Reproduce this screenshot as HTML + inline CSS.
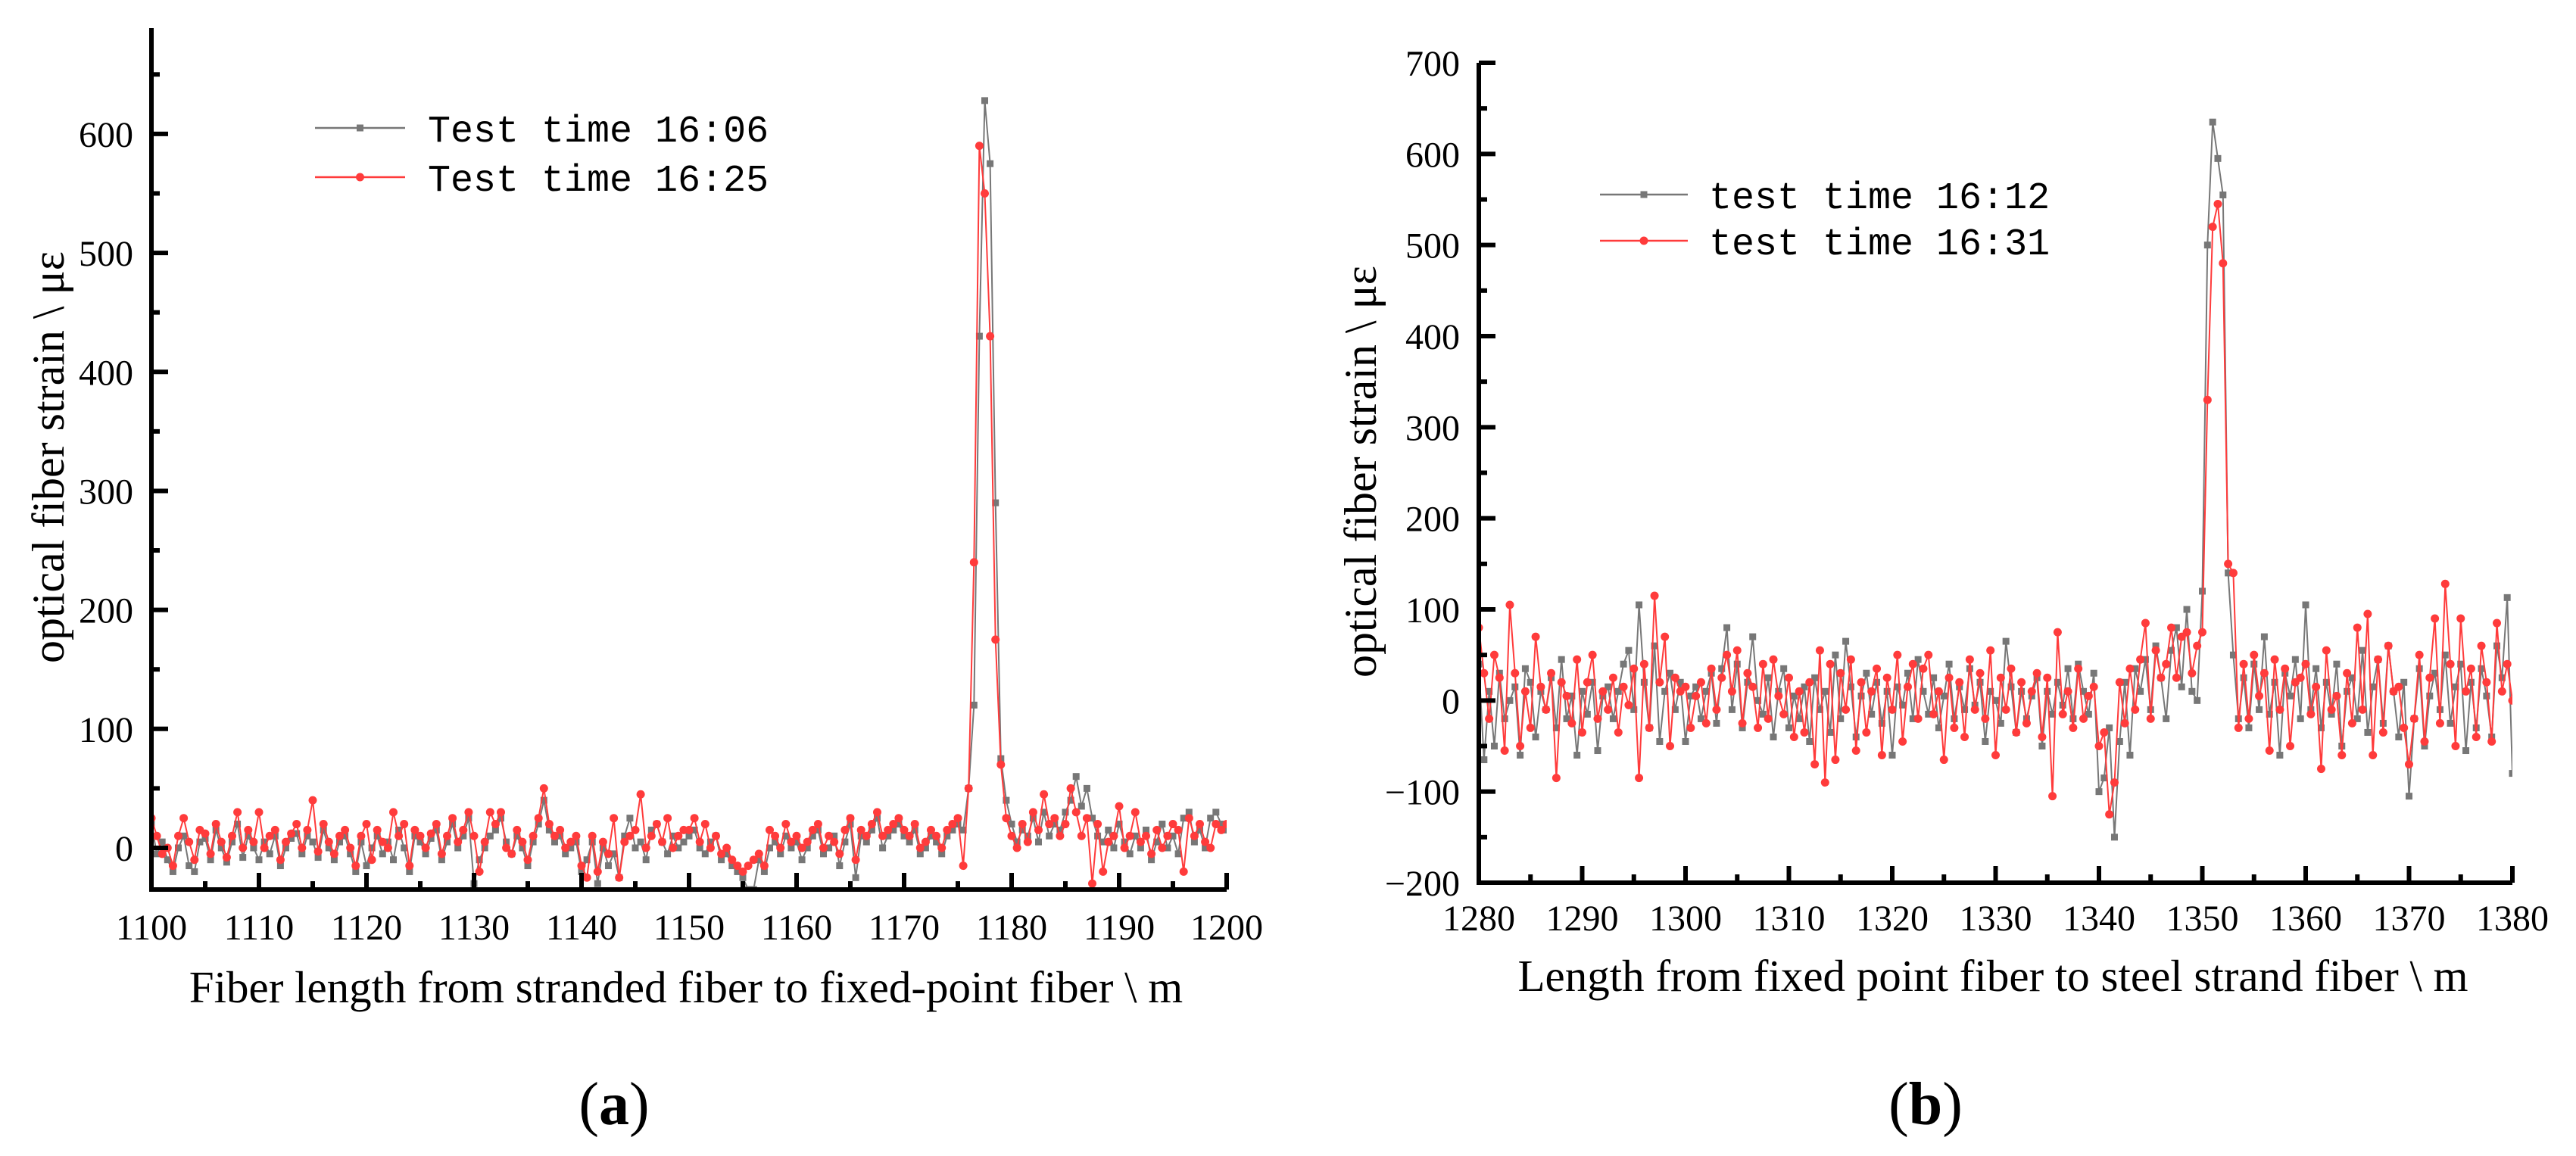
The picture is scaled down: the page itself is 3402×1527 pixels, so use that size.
<!DOCTYPE html>
<html><head><meta charset="utf-8">
<style>
html,body{margin:0;padding:0;background:#fff;}
svg{display:block;}
text{font-family:"Liberation Serif",serif;fill:#000;}
.leg{font-family:"Liberation Mono",monospace;}
</style></head>
<body>
<svg id="svg" width="3402" height="1527" viewBox="0 0 3402 1527" xmlns="http://www.w3.org/2000/svg">
<defs>
<clipPath id="clipA"><rect x="200" y="37" width="1420" height="1138"/></clipPath>
<clipPath id="clipB"><rect x="1953" y="83" width="1365" height="1083"/></clipPath>
</defs>
<g id="chartA"></g>
<g id="chartB"></g>
<text x="811" y="1485" font-size="80" text-anchor="middle">(<tspan font-weight="bold">a</tspan>)</text>
<text x="2543" y="1485" font-size="80" text-anchor="middle">(<tspan font-weight="bold">b</tspan>)</text>
</svg>
<script>
// Chart A data (x from 1100 step 0.5)
const aStart = 1100, aStep = 0.5;
const aGray = [20,-5,5,-10,-20,0,10,-15,-20,5,8,-10,15,0,-12,5,20,-8,10,0,
-10,5,-5,10,-15,0,8,12,-5,10,5,-8,15,0,-10,5,10,-5,-20,5,
-15,0,10,-5,5,-10,15,0,-20,10,5,-5,8,15,-10,5,20,0,10,25,
-30,-10,0,10,15,25,5,-5,10,0,-15,5,20,40,15,5,10,-5,0,5,
-20,-10,5,-30,0,-15,-5,-25,10,25,0,5,-10,15,20,5,-5,10,0,5,
10,15,0,-5,5,10,-10,-5,-15,-20,-25,-35,-35,-10,-20,0,5,-5,10,0,
5,-10,0,10,15,-5,0,10,-15,5,20,-25,10,5,15,25,0,10,15,20,
10,5,15,-5,0,10,5,-5,10,15,20,15,50,120,430,628,575,290,75,40,
20,5,15,10,25,5,30,10,20,15,30,40,60,35,50,25,10,5,15,0,
20,5,-5,10,0,15,-10,5,20,0,10,-5,25,30,5,15,0,25,30,20,15];
const aRed = [25,10,-5,0,-15,10,25,5,-10,15,12,-5,20,5,-8,10,30,0,15,5,
30,0,10,15,-10,5,12,20,0,15,40,-3,20,5,-5,10,15,0,-15,10,
20,-10,15,5,0,30,10,20,-15,15,10,0,12,20,-5,10,25,5,15,30,
10,-20,5,30,20,30,0,-5,15,5,-10,10,25,50,20,10,15,0,5,10,
-15,-25,10,-20,5,-5,25,-25,5,10,15,45,0,10,20,5,25,0,10,15,
15,25,5,20,0,10,-5,0,-10,-15,-20,-15,-10,-5,-15,15,10,0,20,5,
10,0,5,15,20,0,10,5,-5,15,25,-10,15,10,20,30,10,15,20,25,
15,10,20,0,5,15,10,0,15,20,25,-15,50,240,590,550,430,175,70,25,
10,0,20,5,30,15,45,20,25,10,20,50,30,10,25,-30,20,-20,5,10,
35,0,10,30,5,10,-5,15,0,10,20,15,-20,25,10,20,5,0,20,15,20];
const aXTicks = [1100,1110,1120,1130,1140,1150,1160,1170,1180,1190,1200];
const aYTicks = [0,100,200,300,400,500,600];
// Chart B data (x from 1280 step 0.5)
const bStart = 1280, bStep = 0.5;
const bGray = [40,-65,10,-50,30,-20,0,15,-60,35,20,-40,10,-10,25,-30,45,-20,5,-60,
10,-15,20,-55,5,15,-20,10,40,55,-10,105,20,-30,60,-45,10,30,-10,20,
-45,5,15,-20,10,30,-25,35,80,-10,40,-30,20,70,0,-15,25,-40,10,35,
-30,5,-20,15,-45,25,-10,10,-35,50,-20,65,15,-40,5,30,-15,20,-25,10,
-60,15,-5,30,-20,45,10,-15,25,-30,5,40,-20,15,-10,35,-5,20,-45,10,
0,-25,65,15,-35,10,-20,5,25,-50,10,-15,20,-5,35,-20,40,10,-15,30,
-100,-85,-30,-150,-45,20,-60,35,10,45,-10,60,25,-20,55,80,15,100,10,0,
120,500,635,595,555,140,50,-20,25,-30,40,-10,70,-15,20,-60,30,5,45,-20,
105,-10,35,-30,20,-15,40,-50,10,25,-20,55,-35,15,45,-25,60,10,-40,20,
-105,-20,35,-50,5,30,-10,50,-25,15,40,-55,20,-30,35,5,-40,60,25,113,-80];
const bRed = [80,30,-20,50,25,-55,105,30,-50,10,-30,70,15,-10,30,-85,20,5,-25,45,
-35,20,50,-20,10,-10,25,-35,15,-5,35,-85,40,-30,115,20,70,-50,25,10,
15,-30,5,20,-25,35,-10,25,50,10,55,-25,30,15,-30,40,-20,45,5,-15,
25,-40,10,-35,20,-70,55,-90,40,-65,30,-10,45,-55,20,-35,10,35,-60,25,
-10,50,-45,15,40,-20,35,50,-15,10,-65,25,-30,20,-40,45,-10,30,-20,55,
-60,25,-10,35,-35,20,-25,10,30,-40,25,-105,75,-15,10,-30,35,-20,5,15,
-50,-35,-125,-90,20,-25,35,-10,45,85,-20,55,25,40,80,25,70,75,30,60,
75,330,520,545,480,150,140,-30,40,-20,50,5,30,-55,45,-10,35,-50,20,25,
40,-15,15,-75,55,-10,5,-60,30,-25,80,-10,95,-60,45,-35,60,10,15,-30,
-70,-20,50,-45,25,90,-25,128,40,-50,90,10,35,-40,60,20,-45,85,10,40,0];
const bXTicks = [1280,1290,1300,1310,1320,1330,1340,1350,1360,1370,1380];
const bYTicks = [-200,-100,0,100,200,300,400,500,600,700];

const NS = "http://www.w3.org/2000/svg";
function mk(tag, attrs, parent){
  const e = document.createElementNS(NS, tag);
  for (const k in attrs) e.setAttribute(k, attrs[k]);
  parent.appendChild(e);
  return e;
}

function drawChart(g, cfg){
  const sx = v => cfg.x0 + (v - cfg.xmin) / (cfg.xmax - cfg.xmin) * (cfg.x1 - cfg.x0);
  const sy = v => cfg.yb - (v - cfg.ymin) / (cfg.ymax - cfg.ymin) * (cfg.yb - cfg.yt);
  const data = mk('g', {'clip-path': 'url(#' + cfg.clip + ')'}, g);
  
  
  cfg.series.forEach(s => {
    const pts = s.vals.map((v, i) => sx(cfg.start + i * cfg.step).toFixed(1) + ',' + sy(v).toFixed(1)).join(' ');
    const sg = mk('g', {}, data);
    
    
    const pl = mk('polyline', {points: pts, fill: 'none', stroke: s.color, 'stroke-width': 2}, sg);
    
    
    s.vals.forEach((v, i) => {
      const cx = sx(cfg.start + i * cfg.step), cy = sy(v);
      let m;
      if (s.marker === 'sq') m = mk('rect', {x: cx - 4.5, y: cy - 4.5, width: 9, height: 9, fill: s.color}, sg);
      else m = mk('circle', {cx: cx, cy: cy, r: 5.5, fill: s.color}, sg);
      
      
    });
  });
  const ax = mk('g', {stroke: '#000', 'stroke-width': 6, fill: 'none'}, g);
  
  
  mk('path', {d: `M${cfg.x0},${cfg.yt} L${cfg.x0},${cfg.yb} L${cfg.x1},${cfg.yb}`}, ax);
  const xl = mk('g', {'font-size': 48, 'text-anchor': 'middle'}, g);
  
  
  cfg.xticks.forEach((t, i) => {
    const x = sx(t);
    mk('line', {x1: x, y1: cfg.yb, x2: x, y2: cfg.yb - 22}, ax);
    if (i < cfg.xticks.length - 1) { const xm = sx(t + 5); mk('line', {x1: xm, y1: cfg.yb, x2: xm, y2: cfg.yb - 11}, ax); }
    const tx = mk('text', {x: x, y: cfg.xlabY}, xl);
    tx.textContent = t;
    
    
  });
  const yl = mk('g', {'font-size': 48, 'text-anchor': 'end'}, g);
  
  
  cfg.yticks.forEach((t, i) => {
    const y = sy(t);
    mk('line', {x1: cfg.x0, y1: y, x2: cfg.x0 + 22, y2: y}, ax);
    const ym = sy(t + 50);
    if (t + 50 <= cfg.ymax) mk('line', {x1: cfg.x0, y1: ym, x2: cfg.x0 + 11, y2: ym}, ax);
    if (i === 0 && t - 50 >= cfg.ymin) { const y2 = sy(t - 50); mk('line', {x1: cfg.x0, y1: y2, x2: cfg.x0 + 11, y2: y2}, ax); }
    const ty = mk('text', {x: cfg.ylabX, y: y + 17}, yl);
    ty.textContent = (t < 0 ? '\u2212' + (-t) : t);
    
    
  });
  const xt = mk('text', {x: cfg.xtX, y: cfg.xtY, 'font-size': 59, 'text-anchor': 'middle'}, g);
  xt.textContent = cfg.xtitle;
  
  
  const yt = mk('text', {x: 0, y: 0, 'font-size': 60, 'text-anchor': 'middle', transform: `translate(${cfg.ytX},${cfg.ytY}) rotate(-90)`}, g);
  yt.textContent = 'optical fiber strain \\ \u03bc\u03b5';
  
  
  const lg = mk('g', {}, g);
  
  
  cfg.series.forEach((s, i) => {
    const y = cfg.legY[i];
    const e = mk('g', {}, lg);
    
    
    mk('line', {x1: cfg.legX0, y1: y, x2: cfg.legX1, y2: y, stroke: s.color, 'stroke-width': 2.5}, e);
    const mx = (cfg.legX0 + cfg.legX1) / 2;
    if (s.marker === 'sq') mk('rect', {x: mx - 4.5, y: y - 4.5, width: 9, height: 9, fill: s.color}, e);
    else mk('circle', {cx: mx, cy: y, r: 5.5, fill: s.color}, e);
    const t = mk('text', {x: cfg.legTX, y: y + 18, 'font-size': 50, class: 'leg'}, e);
    t.textContent = s.label;
  });
}

drawChart(document.getElementById('chartA'), {
  x0: 200, x1: 1620, xmin: 1100, xmax: 1200, yt: 37, yb: 1175, ymin: -35, ymax: 689,
  start: aStart, step: aStep, clip: 'clipA', xticks: aXTicks, yticks: aYTicks,
  xlabY: 1241, ylabX: 176, xtitle: 'Fiber length from stranded fiber to fixed-point fiber \\ m',
  xtX: 906, xtY: 1324, ytX: 84, ytY: 604,
  legX0: 416, legX1: 535, legTX: 565, legY: [169, 234],
  series: [
    {name: 'series-1606', label: 'Test time 16:06', vals: aGray, color: '#777777', marker: 'sq'},
    {name: 'series-1625', label: 'Test time 16:25', vals: aRed, color: '#ff3b3b', marker: 'ci'}
  ]
});
drawChart(document.getElementById('chartB'), {
  x0: 1953, x1: 3318, xmin: 1280, xmax: 1380, yt: 83, yb: 1166, ymin: -200, ymax: 700,
  start: bStart, step: bStep, clip: 'clipB', xticks: bXTicks, yticks: bYTicks,
  xlabY: 1229, ylabX: 1928, xtitle: 'Length from fixed point  fiber to steel strand fiber \\ m',
  xtX: 2632, xtY: 1309, ytX: 1817, ytY: 623,
  legX0: 2113, legX1: 2229, legTX: 2257, legY: [257, 318],
  series: [
    {name: 'series-1612', label: 'test time 16:12', vals: bGray, color: '#777777', marker: 'sq'},
    {name: 'series-1631', label: 'test time 16:31', vals: bRed, color: '#ff3b3b', marker: 'ci'}
  ]
});
</script>
</body></html>
